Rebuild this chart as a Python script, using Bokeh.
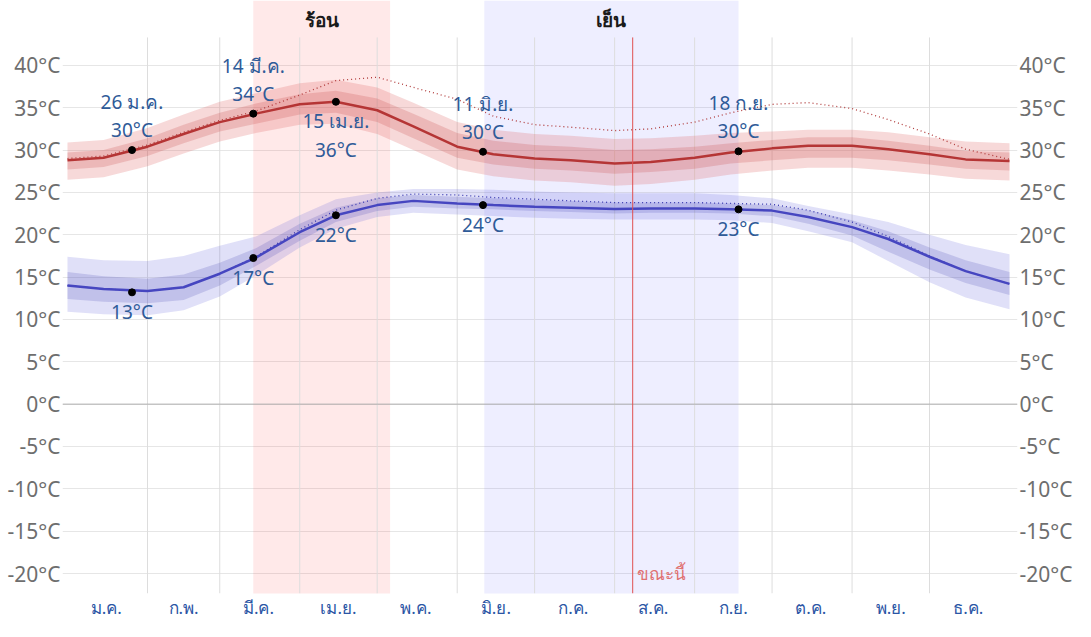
from bokeh.plotting import figure
from bokeh.models import Range1d, FixedTicker, LinearAxis, ColumnDataSource
from bokeh.core.properties import value
from bokeh.embed import file_html
from bokeh.resources import INLINE

# ---- data (day of year, 0 = 1 Jan) ----
days = [0, 14, 31, 45, 59, 73, 90, 104, 120, 134, 151, 165, 181, 195, 212, 226, 243, 257, 273, 287, 304, 318, 334, 348, 365]

high = [28.8, 29.1, 30.4, 31.9, 33.3, 34.3, 35.4, 35.7, 34.7, 32.8, 30.4, 29.5, 29.0, 28.8, 28.4, 28.6, 29.1, 29.7, 30.2, 30.5, 30.5, 30.1, 29.5, 28.9, 28.7]
high_p90 = [30.9, 31.2, 32.6, 34.2, 35.7, 36.7, 37.9, 38.3, 37.4, 35.6, 33.3, 32.4, 31.9, 31.7, 31.3, 31.4, 31.7, 32.0, 32.2, 32.4, 32.4, 32.1, 31.5, 31.0, 30.8]
high_p75 = [29.7, 30.0, 31.4, 33.0, 34.4, 35.5, 36.6, 37.0, 36.1, 34.3, 32.0, 31.1, 30.6, 30.4, 30.0, 30.1, 30.4, 30.8, 31.2, 31.5, 31.5, 31.1, 30.5, 29.9, 29.7]
high_p25 = [27.7, 28.0, 29.3, 30.8, 32.2, 33.1, 34.2, 34.4, 33.3, 31.4, 29.1, 28.3, 27.8, 27.6, 27.2, 27.4, 27.8, 28.4, 28.8, 29.1, 29.1, 28.8, 28.3, 27.8, 27.6]
high_p10 = [26.5, 26.8, 28.1, 29.6, 31.0, 32.0, 33.0, 33.1, 31.9, 30.0, 27.7, 26.9, 26.4, 26.2, 25.8, 26.0, 26.5, 27.1, 27.6, 27.9, 27.9, 27.6, 27.1, 26.6, 26.4]
high_feel = [29.0, 29.3, 30.6, 32.1, 33.5, 34.6, 36.5, 38.2, 38.6, 37.4, 36.0, 34.0, 33.0, 32.7, 32.3, 32.5, 33.3, 34.4, 35.4, 35.6, 34.9, 33.6, 31.9, 30.1, 28.9]

low = [14.0, 13.6, 13.35, 13.8, 15.4, 17.3, 20.3, 22.3, 23.5, 24.0, 23.7, 23.5, 23.3, 23.2, 23.05, 23.1, 23.1, 23.0, 22.85, 22.1, 20.9, 19.5, 17.4, 15.7, 14.2]
low_p90 = [17.4, 17.0, 16.9, 17.5, 18.7, 19.8, 22.3, 24.2, 25.0, 25.4, 25.4, 25.3, 25.1, 25.0, 24.9, 24.9, 24.9, 24.7, 24.3, 23.4, 22.4, 21.5, 20.0, 18.8, 17.7]
low_p75 = [15.6, 15.1, 14.8, 15.3, 16.7, 18.4, 21.3, 23.2, 24.3, 24.7, 24.5, 24.3, 24.1, 24.0, 23.8, 23.8, 23.8, 23.7, 23.5, 22.9, 21.7, 20.4, 18.5, 17.0, 15.6]
low_p25 = [12.4, 12.1, 11.9, 12.3, 14.0, 16.3, 19.3, 21.5, 22.8, 23.3, 23.1, 23.0, 22.8, 22.7, 22.5, 22.6, 22.6, 22.5, 22.2, 21.3, 19.9, 18.0, 15.9, 14.3, 12.9]
low_p10 = [10.9, 10.6, 10.5, 11.1, 12.7, 15.2, 18.5, 20.7, 22.1, 22.6, 22.4, 22.2, 22.0, 21.9, 21.8, 21.8, 21.8, 21.7, 21.4, 20.4, 19.1, 16.9, 14.4, 12.6, 11.2]
low_feel = [14.0, 13.6, 13.35, 13.8, 15.4, 17.4, 20.6, 22.9, 24.3, 24.8, 24.7, 24.4, 24.2, 24.0, 23.8, 23.8, 23.8, 23.7, 23.6, 22.9, 21.5, 19.8, 17.5, 15.7, 14.2]

ann_days = [25, 72, 104, 161, 260]
ann_dates = ["26 ม.ค.", "14 มี.ค.", "15 เม.ย.", "11 มิ.ย.", "18 ก.ย."]
ann_high = [30.0, 34.3, 35.7, 29.8, 29.85]
ann_high_text = ["30°C", "34°C", "36°C", "30°C", "30°C"]
ann_high_above = [True, True, False, True, True]
ann_low = [13.2, 17.25, 22.3, 23.5, 23.0]
ann_low_text = ["13°C", "17°C", "22°C", "24°C", "23°C"]

season_names = ["ร้อน", "เย็น"]
season_start = [72, 161.5]
season_end = [125, 260]

now_day = 219
now_text = "ขณะนี้"

month_starts = [31, 59, 90, 120, 151, 181, 212, 243, 273, 304, 334]
month_mids = [15, 45, 74, 105, 135, 166, 196, 227, 258, 288, 319, 349]
month_labels = ["ม.ค.", "ก.พ.", "มี.ค.", "เม.ย.", "พ.ค.", "มิ.ย.", "ก.ค.", "ส.ค.", "ก.ย.", "ต.ค.", "พ.ย.", "ธ.ค."]

y_ticks = [-20, -15, -10, -5, 0, 5, 10, 15, 20, 25, 30, 35, 40]
y_labels = [f"{t}°C" for t in y_ticks]

# ---- styling ----
FONT = "Noto Sans"
Y_TOP = 47.66
Y_BOT = -22.36
GRID_TOP = 43.3
BAND_BOT = -22.5
X_LEFT, X_RIGHT = -1.93, 368.1

p = figure(width=1075, height=621, x_range=Range1d(X_LEFT, X_RIGHT), y_range=Range1d(Y_BOT, Y_TOP),
           output_backend="svg", toolbar_location=None,
           min_border_left=62, min_border_right=56, min_border_top=0, min_border_bottom=27)
p.outline_line_color = None
p.xgrid.grid_line_color = None
p.ygrid.ticker = FixedTicker(ticks=y_ticks)
p.ygrid.grid_line_color = "#e6e6e6"

# seasons
p.quad(left=season_start, right=season_end, bottom=BAND_BOT, top=Y_TOP,
       fill_color=["#ff2a2a", "#2a2aff"], fill_alpha=[0.1, 0.08], line_color=None)
p.text(x=[(a + b) / 2 for a, b in zip(season_start, season_end)], y=[45.3, 45.3], text=season_names,
       text_align="center", text_baseline="middle", text_color="#1a1a1a",
       text_font=value(FONT), text_font_size="19px", text_font_style="bold")

# month grid lines
p.segment(x0=month_starts, y0=Y_BOT, x1=month_starts, y1=GRID_TOP, line_color="#dddddd", line_width=1)
# zero line
p.segment(x0=[X_LEFT], y0=[0], x1=[X_RIGHT], y1=[0], line_color="#b0b0b0", line_width=1)

# high bands
p.varea(x=days, y1=high_p10, y2=high_p90, fill_color="#e06666", fill_alpha=0.25)
p.varea(x=days, y1=high_p25, y2=high_p75, fill_color="#c84545", fill_alpha=0.22)
# low bands
p.varea(x=days, y1=low_p10, y2=low_p90, fill_color="#6666dd", fill_alpha=0.2)
p.varea(x=days, y1=low_p25, y2=low_p75, fill_color="#4545b5", fill_alpha=0.2)

# feels-like
p.line(days, high_feel, line_color="#b03a3a", line_width=1.3, line_dash="1 3")
p.line(days, low_feel, line_color="#3a3ab0", line_width=1.3, line_dash="1 3")

# main lines
p.line(days, high, line_color="#b53535", line_width=2.5)
p.line(days, low, line_color="#4646c0", line_width=2.5)

# now line
p.segment(x0=[now_day], y0=[Y_BOT], x1=[now_day], y1=[GRID_TOP], line_color="#e05050", line_width=1)
p.text(x=[now_day], y=[-20.0], text=[now_text], x_offset=4, text_align="left", text_baseline="middle",
       text_color="#e07070", text_font=value(FONT), text_font_size="17px")

# markers
p.scatter(ann_days, ann_high, size=7, color="black")
p.scatter(ann_days, ann_low, size=7, color="black")

ANN_COLOR = "#2f5b98"
up = [i for i, a in enumerate(ann_high_above) if a]
dn = [i for i, a in enumerate(ann_high_above) if not a]
src_up = ColumnDataSource(dict(x=[ann_days[i] for i in up], y=[ann_high[i] for i in up],
                               d=[ann_dates[i] for i in up], v=[ann_high_text[i] for i in up]))
src_dn = ColumnDataSource(dict(x=[ann_days[i] for i in dn], y=[ann_high[i] for i in dn],
                               d=[ann_dates[i] for i in dn], v=[ann_high_text[i] for i in dn]))
common = dict(text_align="center", text_baseline="middle", text_color=ANN_COLOR,
              text_font=value(FONT), text_font_size="19px")
p.text(x="x", y="y", text="d", source=src_up, y_offset=-48, **common)
p.text(x="x", y="y", text="v", source=src_up, y_offset=-20, **common)
p.text(x="x", y="y", text="d", source=src_dn, y_offset=19, **common)
p.text(x="x", y="y", text="v", source=src_dn, y_offset=48, **common)
p.text(x=ann_days, y=ann_low, text=ann_low_text, y_offset=20, **common)

# axes
p.xaxis.ticker = FixedTicker(ticks=month_mids)
p.xaxis.major_label_overrides = {m: l for m, l in zip(month_mids, month_labels)}
p.xaxis.axis_line_color = None
p.xaxis.major_tick_line_color = None
p.xaxis.minor_tick_line_color = None
p.xaxis.major_tick_out = 0
p.xaxis.major_label_text_color = "#2b56a5"
p.xaxis.major_label_text_font = FONT
p.xaxis.major_label_text_font_size = "17px"
p.xaxis.major_label_standoff = 2

p.yaxis.ticker = FixedTicker(ticks=y_ticks)
p.yaxis.major_label_overrides = {t: l for t, l in zip(y_ticks, y_labels)}
right = LinearAxis(ticker=FixedTicker(ticks=y_ticks),
                   major_label_overrides={t: l for t, l in zip(y_ticks, y_labels)})
p.add_layout(right, "right")
for ax in (p.yaxis[0], right):
    ax.axis_line_color = None
    ax.major_tick_line_color = None
    ax.minor_tick_line_color = None
    ax.major_tick_out = 0
    ax.major_label_text_color = "#6e6e6e"
    ax.major_label_text_font = FONT
    ax.major_label_text_font_size = "21px"
    ax.major_label_standoff = 2

open("out.html", "w").write(file_html(p, INLINE))
